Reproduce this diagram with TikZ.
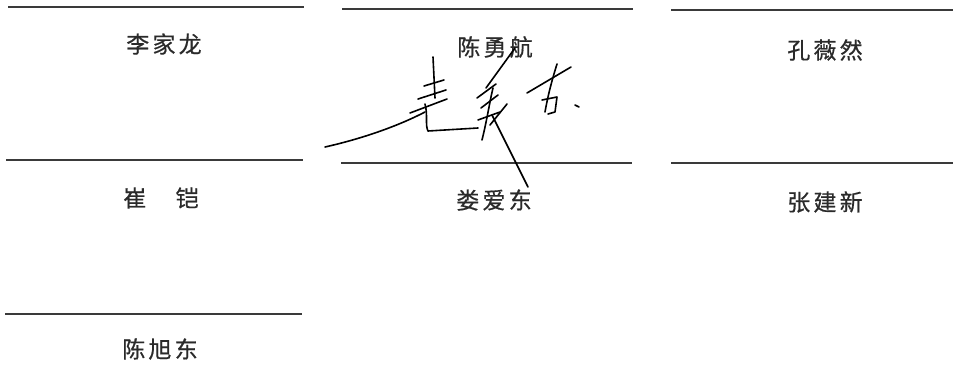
\documentclass[tikz,border=0pt]{standalone}
\usepackage{fontspec}
\newfontfamily\cjk[LetterSpace=14,FakeBold=0.6]{Noto Sans CJK SC}
\definecolor{ink}{HTML}{2A2A2A}
\definecolor{rule}{HTML}{3A3A3A}
\begin{document}
\begin{tikzpicture}[x=1pt,y=-1pt,
  signline/.style={draw=rule,line width=1.7pt},
  nametext/.style={font=\cjk\fontsize{23}{25}\selectfont,text=ink,inner sep=0pt,anchor=center},
  pen/.style={draw=black,line width=1.6pt,line cap=round,line join=round}]
\useasboundingbox (0,0) rectangle (953,367);
% signature lines
\coordinate (a1) at (8,7);   \coordinate (a2) at (304,7);
\coordinate (b1) at (342,9); \coordinate (b2) at (633,9);
\coordinate (c1) at (671,10);\coordinate (c2) at (953,10);
\coordinate (d1) at (6,160); \coordinate (d2) at (303,160);
\coordinate (e1) at (341,163);\coordinate (e2) at (632,163);
\coordinate (f1) at (671,163);\coordinate (f2) at (953,163);
\coordinate (g1) at (5,314); \coordinate (g2) at (302,314);
\foreach \p in {a,b,c,d,e,f,g} \draw[signline] (\p1) -- (\p2);
% names
\node[nametext] (n1) at (164,44) {李家龙};
\node[nametext] (n2) at (495,47) {陈勇航};
\node[nametext] (n3) at (825,50) {孔薇然};
\node[nametext] (n4) at (161,198) {崔　铠};
\node[nametext] (n5) at (494,200) {娄爱东};
\node[nametext] (n6) at (825,202) {张建新};
\node[nametext] (n7) at (160,349) {陈旭东};
% handwritten signature
\draw[pen] (325,147) .. controls (365,138) and (400,125) .. (425,112);
\draw[pen] (433,57) -- (435,98);
\draw[pen] (424,86) -- (444,80);
\draw[pen] (418,99) -- (446,90);
\draw[pen] (410,113) -- (447,99);
\draw[pen] (425,104) .. controls (428,115) and (425,125) .. (428,131) -- (478,128);
\draw[pen] (515,48) -- (486,88);
\draw[pen] (477,98) -- (496,84);
\draw[pen] (481,108) -- (498,95);
\draw[pen] (482,140) .. controls (487,120) and (490,100) .. (493,88);
\draw[pen] (490,125) -- (507,104);
\draw[pen] (478,120) -- (500,112);
\draw[pen] (492,115) -- (528,187);
\draw[pen] (527,93) -- (571,67);
\draw[pen] (557,64) .. controls (552,80) and (548,95) .. (545,112);
\draw[pen] (542,100) -- (557,97) -- (555,112) -- (548,114);
\draw[pen] (575,105) -- (579,107);
\end{tikzpicture}
\end{document}
